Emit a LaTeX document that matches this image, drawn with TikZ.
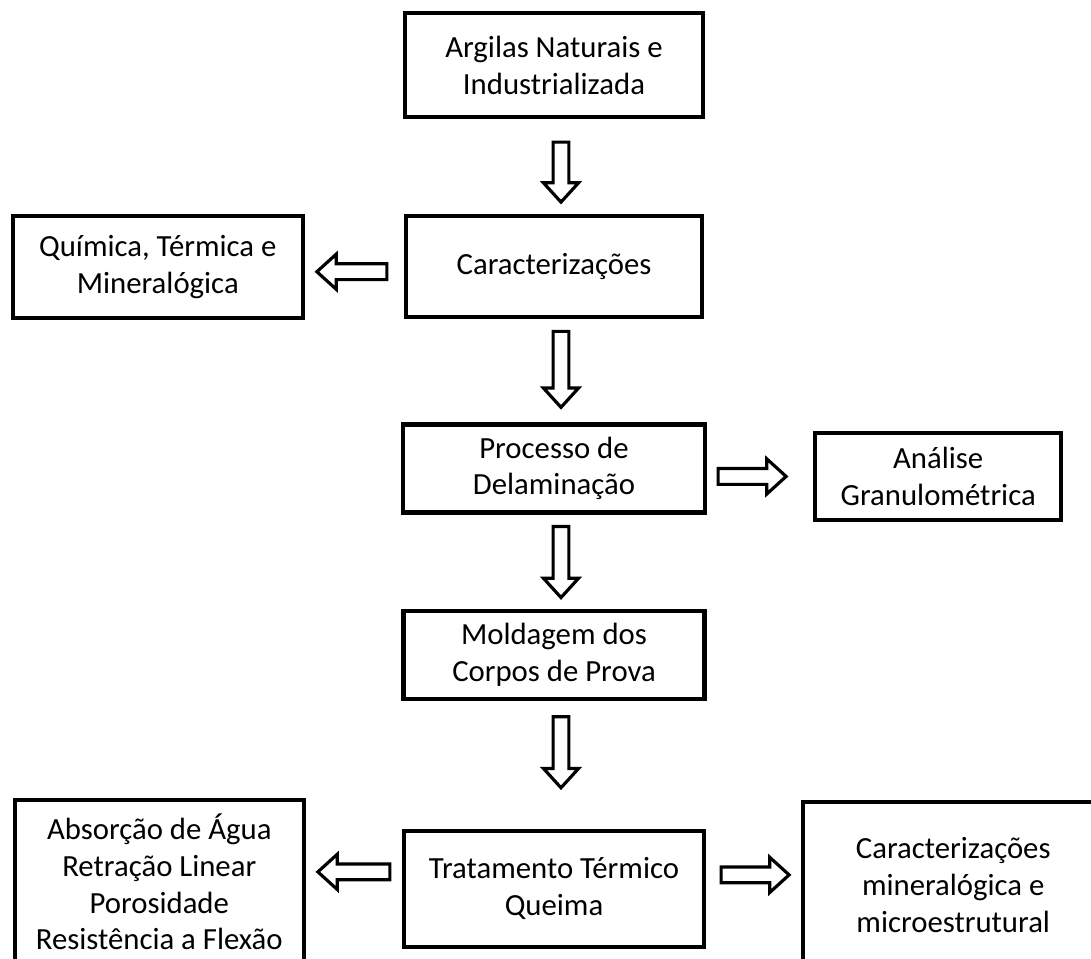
\documentclass[tikz,border=0pt]{standalone}
\usepackage{fontspec}
\setmainfont{Carlito}
\usetikzlibrary{positioning, calc}

\begin{document}
\begin{tikzpicture}[node distance=2cm, every node/.style={font=\fontsize{17.5}{21}\selectfont, align=center},
    blockarrow/.style={draw=black, line width=1.8pt, fill=white, line join=miter,
      to path={let \p1=(\tikztostart), \p2=(\tikztotarget), \n1={atan2(\y2-\y1,\x2-\x1)}, \n2={veclen(\x2-\x1,\y2-\y1)} in
        {[shift={(\p1)}, rotate=\n1] (0pt,-4.5pt) -- ({\n2*1pt-11pt},-4.5pt) -- ({\n2*1pt-11pt},-10pt) -- ({\n2*1pt},0pt)
        -- ({\n2*1pt-11pt},10pt) -- ({\n2*1pt-11pt},4.5pt) -- (0pt,4.5pt) -- cycle}}}]
        \tikzstyle{stage} = [rectangle, draw=black, line width=2.4pt, inner sep=2pt]

        \useasboundingbox (0,0) rectangle (21.82,-19.16);

        \node[stage, minimum width=5.96cm, minimum height=2.08cm] (argilas) at (11.08,-1.30) {Argilas Naturais e\\Industrializada};
        \node[stage, minimum width=5.92cm, minimum height=2.02cm, below=1.9cm of argilas] (caract) {Caracterizações};
        \node[stage, minimum width=5.8cm, minimum height=2.04cm, left=1.98cm of caract] (quimica) {Química, Térmica e\\Mineralógica};
        \node[stage, minimum width=6.04cm, minimum height=1.76cm, below=2.06cm of caract] (processo) {Processo de\\Delaminação};
        \node[stage, minimum width=4.92cm, minimum height=1.74cm, right=2.12cm of processo, yshift=-0.16cm] (analise) {Análise\\Granulométrica};
        \node[stage, minimum width=6.02cm, minimum height=1.76cm, below=1.88cm of processo] (moldagem) {Moldagem dos\\Corpos de Prova};
        \node[stage, minimum width=6.0cm, minimum height=2.32cm, below=2.56cm of moldagem] (tratamento) {Tratamento Térmico\\Queima};
        \node[stage, minimum width=5.78cm, minimum height=3.28cm, left=1.92cm of tratamento, yshift=0.14cm] (absorcao) {Absorção de Água\\Retração Linear\\Porosidade\\Resistência a Flexão};
        \node[stage, minimum width=6cm, minimum height=3.3cm, right=1.9cm of tratamento, yshift=0.08cm] (caract2) {Caracterizações\\mineralógica e\\microestrutural};

        \draw[blockarrow] ([xshift=0.14cm, yshift=-0.46cm]argilas.south) to ([xshift=0.14cm, yshift=0.24cm]caract.north);
        \draw[blockarrow] ([xshift=-0.34cm, yshift=-0.1cm]caract.west) to ([xshift=0.24cm, yshift=-0.1cm]quimica.east);
        \draw[blockarrow] ([xshift=0.14cm, yshift=-0.24cm]caract.south) to ([xshift=0.14cm, yshift=0.3cm]processo.north);
        \draw[blockarrow] ([xshift=0.22cm, yshift=-0.16cm]processo.east) to ([xshift=-0.54cm]analise.west);
        \draw[blockarrow] ([xshift=0.14cm, yshift=-0.24cm]processo.south) to ([xshift=0.14cm, yshift=0.22cm]moldagem.north);
        \draw[blockarrow] ([xshift=0.14cm, yshift=-0.32cm]moldagem.south) to ([xshift=0.14cm, yshift=0.82cm]tratamento.north);
        \draw[blockarrow] ([xshift=-0.24cm, yshift=0.34cm]tratamento.west) to ([xshift=0.24cm, yshift=0.2cm]absorcao.east);
        \draw[blockarrow] ([xshift=0.3cm, yshift=0.28cm]tratamento.east) to ([xshift=-0.24cm, yshift=0.2cm]caract2.west);
    \end{tikzpicture}
\end{document}
